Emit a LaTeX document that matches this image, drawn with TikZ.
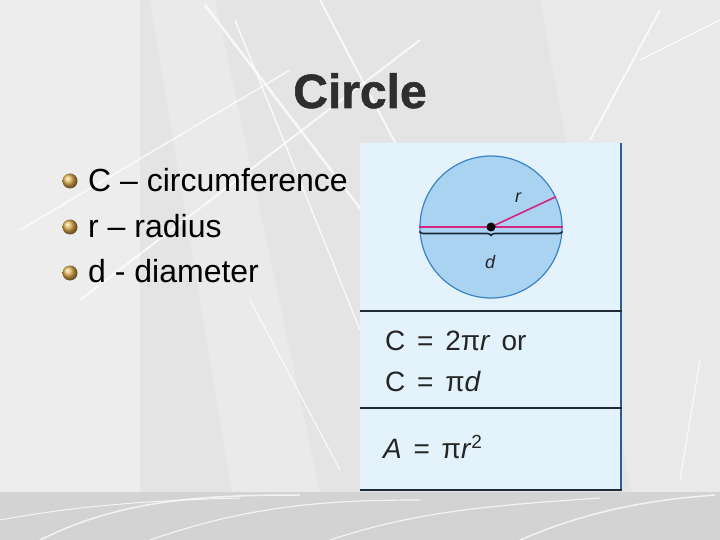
\documentclass[tikz,border=0pt]{standalone}
\usepackage{fontspec}
\setmainfont{Liberation Sans}
\newfontfamily\titlefont[FakeBold=1.2]{Liberation Sans Bold}
\usetikzlibrary{decorations.pathreplacing}
\definecolor{bg}{HTML}{E4E4E4}
\definecolor{band}{HTML}{D3D3D3}
\definecolor{panel}{HTML}{E4F2FB}
\definecolor{panelline}{HTML}{1E2A38}
\definecolor{panelborder}{HTML}{2B5C96}
\definecolor{discfill}{HTML}{A9D3F0}
\definecolor{discline}{HTML}{3A83C4}
\definecolor{magentaline}{HTML}{D4257F}
\definecolor{gold}{HTML}{E2B04C}
\definecolor{titlegray}{HTML}{2E2E2E}
\definecolor{mathgray}{HTML}{262626}
\tikzset{
  streak/.style={white, line width=#1, opacity=0.75},
  streak/.default=2pt,
  bullettext/.style={anchor=base west, inner sep=0pt, font=\fontsize{32}{36}\selectfont, text=black},
  mathtext/.style={anchor=base west, inner sep=0pt, font=\fontsize{28}{33}\selectfont, text=mathgray},
  divider/.style={panelline, line width=1.6pt},
  bulletball/.style={ball color=gold},
}
\newcommand{\eqsp}{\hspace{0.42em}=\hspace{0.42em}}
\begin{document}
\begin{tikzpicture}[x=1pt,y=-1pt]
\useasboundingbox (0,0) rectangle (720,540);
% background
\fill[bg] (0,0) rectangle (720,540);
\fill[white, opacity=0.35] (0,0) rectangle (140,540);
\fill[white, opacity=0.25] (150,0) -- (215,0) -- (330,540) -- (240,540) -- cycle;
\fill[white, opacity=0.2] (540,0) -- (720,0) -- (720,540) -- (640,540) -- cycle;
\draw[streak=2.5pt] (205,5) -- (430,300);
\draw[streak=2pt] (80,300) -- (420,40);
\draw[streak=1.5pt] (20,230) -- (290,70);
\draw[streak=2pt] (320,0) -- (420,190);
\draw[streak=2pt] (590,140) -- (660,10);
\draw[streak=1.5pt] (235,20) -- (360,330);
\draw[streak=1.5pt] (640,60) -- (720,20);
\draw[streak=1.2pt] (250,300) -- (340,470);
\draw[streak=1.2pt] (700,360) -- (680,480);
% bottom band
\fill[band] (0,492) rectangle (720,540);
\draw[streak=1.5pt] (40,540) .. controls (120,500) and (200,495) .. (300,495);
\draw[streak=1.2pt] (150,540) .. controls (250,505) and (330,500) .. (420,500);
\draw[streak=1.2pt] (330,540) .. controls (420,510) and (500,505) .. (600,498);
\draw[streak=1.5pt] (520,540) .. controls (590,510) and (650,500) .. (715,495);
\draw[streak=1pt] (0,520) .. controls (80,505) and (160,500) .. (240,498);
% title
\node[font=\fontsize{48}{52}\selectfont\titlefont, text=titlegray, anchor=base, inner sep=0pt] (title) at (360,108) {Circle};
% bullets
\shade[bulletball] (70,181) circle (7.5);
\shade[bulletball] (70,227) circle (7.5);
\shade[bulletball] (70,273) circle (7.5);
\node[bullettext] (b1) at (88,192) {C – circumference};
\node[bullettext] (b2) at (88,237) {r – radius};
\node[bullettext] (b3) at (88,282) {d - diameter};
% panel
\fill[panel] (360,143) rectangle (622,491);
\draw[panelborder, line width=1.6pt] (621,143) -- (621,491);
\draw[divider] (360,311) -- (622,311);
\draw[divider] (360,408) -- (622,408);
\draw[divider] (360,490) -- (622,490);
% circle figure
\node[circle, draw=discline, fill=discfill, line width=1.2pt, minimum size=142pt, inner sep=0pt] (disc) at (491,227) {};
\draw[magentaline, line width=2.8pt] (disc.west) -- (disc.east);
\draw[magentaline, line width=1.6pt] (disc.center) -- (disc.25);
\draw[panelline, line width=1.6pt, decorate, decoration={brace, mirror, amplitude=4pt}] ([yshift=-4.5pt]disc.west) -- ([yshift=-4.5pt]disc.east);
\fill[black] (disc.center) circle (4.5);
\node[font=\fontsize{18}{20}\selectfont\itshape, text=mathgray, inner sep=0pt] (rlabel) at (518,198) {r};
\node[font=\fontsize{18}{20}\selectfont\itshape, text=mathgray, inner sep=0pt] (dlabel) at (490,262) {d};
% formulas
\node[mathtext] (f1) at (385,350) {C\eqsp 2π\textit{r}\hspace{0.4em}or};
\node[mathtext] (f2) at (385,391) {C\eqsp π\textit{d}};
\node[mathtext] (f3) at (383,458) {\textit{A}\eqsp π\textit{r}\raisebox{10pt}{\fontsize{19}{22}\selectfont 2}};
\end{tikzpicture}
\end{document}
